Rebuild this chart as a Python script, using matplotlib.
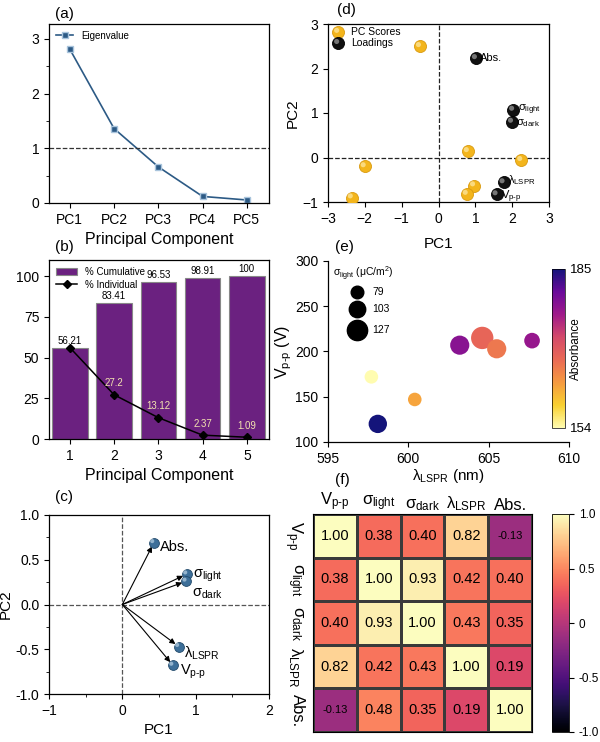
import numpy as np
import matplotlib
matplotlib.use("Agg")
import matplotlib.pyplot as plt
from matplotlib.colors import LinearSegmentedColormap, Normalize
from matplotlib.transforms import offset_copy
from matplotlib.ticker import AutoMinorLocator

plt.rcParams['font.family'] = ['Liberation Sans', 'DejaVu Sans']
plt.rcParams['mathtext.fontset'] = 'custom'
plt.rcParams['mathtext.rm'] = 'Liberation Sans'
plt.rcParams['mathtext.it'] = 'Liberation Sans'
plt.rcParams['font.size'] = 9.5
plt.rcParams['axes.linewidth'] = 0.9

# ---- data ----
pcs = ["PC1", "PC2", "PC3", "PC4", "PC5"]
eigen = [2.81, 1.36, 0.66, 0.12, 0.055]

comp = [1, 2, 3, 4, 5]
cumulative = [56.21, 83.41, 96.53, 98.91, 100]
individual = [56.21, 27.2, 13.12, 2.37, 1.09]
cum_labels = ["56.21", "83.41", "96.53", "98.91", "100"]
ind_labels = ["", "27.2", "13.12", "2.37", "1.09"]

var_names = [r"V$_{\rm p\text{-}p}$", r"$\sigma_{\rm light}$", r"$\sigma_{\rm dark}$",
             r"$\lambda_{\rm LSPR}$", "Abs."]
load_pc1 = [0.69, 0.88, 0.87, 0.77, 0.43]
load_pc2 = [-0.68, 0.34, 0.26, -0.47, 0.69]

score_pc1 = [-0.5, -2.0, -2.35, 0.8, 2.25, 0.97, 0.77]
score_pc2 = [2.5, -0.2, -0.9, 0.14, -0.06, -0.63, -0.82]
bi_pc1 = [1.58, 2.03, 2.0, 1.77, 1.02]
bi_pc2 = [-0.83, 1.07, 0.8, -0.56, 2.23]

lspr = [597.7, 598.1, 600.4, 603.2, 604.6, 605.5, 607.7]
vpp = [172, 120, 147, 207, 215, 203, 212]
sigma_light = [85, 115, 85, 120, 140, 120, 98]
absorb = [154, 185, 162, 178, 168, 166, 177]
size_legend = [79, 103, 127]

corr = np.array([
    [1.00, 0.38, 0.40, 0.82, -0.13],
    [0.38, 1.00, 0.93, 0.42, 0.40],
    [0.40, 0.93, 1.00, 0.43, 0.35],
    [0.82, 0.42, 0.43, 1.00, 0.19],
    [-0.13, 0.48, 0.35, 0.19, 1.00],
])

W, H = 600, 742
fig = plt.figure(figsize=(W / 100, H / 100), dpi=100)
TICK = 10
LAB = 11


def ax_px(l, t, r, b):
    return fig.add_axes([l / W, 1 - b / H, (r - l) / W, (b - t) / H])


def sphere(ax, x, y, s, color, edge, hl="white", zorder=3):
    ax.scatter(x, y, s=s, c=color, edgecolors=edge, linewidths=0.6, zorder=zorder)
    tr = offset_copy(ax.transData, fig=fig, x=-1.2, y=1.2, units='points')
    ax.scatter(x, y, s=s * 0.18, c=hl, alpha=0.6, edgecolors='none',
               transform=tr, zorder=zorder + 0.1)


blue = "#2c5a85"

# ---- (a) ----
ax = ax_px(49, 24, 269, 203)
x = np.arange(1, 6)
ax.plot(x, eigen, '-s', color=blue, ms=5, lw=1.2, mfc=blue, mec="#a9c4dc", label="Eigenvalue")
ax.axhline(1, color="#333333", ls='--', lw=0.9)
ax.set_xlim(0.53, 5.5)
ax.set_ylim(0, 3.27)
ax.set_xticks(x)
ax.set_xticklabels(pcs)
ax.set_yticks([0, 1, 2, 3])
ax.yaxis.set_minor_locator(AutoMinorLocator(2))
ax.tick_params(labelsize=TICK)
ax.set_xlabel("Principal Component", fontsize=LAB + 0.5, labelpad=4)
ax.legend(loc="upper left", fontsize=7, frameon=False, handlelength=1.8,
          borderaxespad=0.3)
fig.text(55 / W, 1 - 14 / H, "(a)", fontsize=11, va="center")

# ---- (b) ----
ax = ax_px(49, 260, 269, 439)
hb = ax.bar(comp, cumulative, width=0.8, color="#6b2180", edgecolor="#888888", lw=0.8,
            label="% Cumulative")
hl, = ax.plot(comp, individual, '-D', color="black", ms=4, lw=1.1, label="% Individual")
for xi, yi, t in zip(comp, cumulative, cum_labels):
    ax.text(xi, yi + 1.2, t, ha="center", va="bottom", fontsize=7)
for xi, yi, t in zip(comp, individual, ind_labels):
    if t:
        ax.text(xi, yi + 4, t, ha="center", va="bottom", fontsize=7, color="#f3e3b0")
ax.set_xlim(0.53, 5.5)
ax.set_ylim(0, 110)
ax.set_xticks(comp)
ax.set_yticks([0, 25, 50, 75, 100])
ax.tick_params(labelsize=TICK)
ax.set_xlabel("Principal Component", fontsize=LAB + 0.5, labelpad=4)
ax.legend([hb, hl], ["% Cumulative", "% Individual"], loc="upper left", fontsize=7,
          frameon=False, handlelength=2.2, borderaxespad=0.3, labelspacing=0.3)
fig.text(55 / W, 1 - 247 / H, "(b)", fontsize=11, va="center")

# ---- (c) ----
ax = ax_px(49, 515, 269, 694)
ax.axhline(0, color="#555555", ls='--', lw=0.9)
ax.axvline(0, color="#555555", ls='--', lw=0.9)
for px_, py_ in zip(load_pc1, load_pc2):
    ax.annotate("", xy=(px_, py_), xytext=(0, 0),
                arrowprops=dict(arrowstyle="-|>", color="black", lw=0.8,
                                mutation_scale=8, shrinkA=0, shrinkB=3))
sphere(ax, load_pc1, load_pc2, 50, "#3d6f99", "#234a6b", hl="#cfe3f2")
c_offsets = [(0.1, -0.07), (0.08, -0.02), (0.08, -0.14), (0.07, -0.07), (0.09, -0.05)]
for name, px_, py_, (dx, dy) in zip(var_names, load_pc1, load_pc2, c_offsets):
    ax.text(px_ + dx, py_ + dy, name, fontsize=10.5, va="center", ha="left")
ax.set_xlim(-1, 2)
ax.set_ylim(-1, 1)
ax.set_xticks([-1, 0, 1, 2])
ax.set_yticks([-1.0, -0.5, 0.0, 0.5, 1.0])
ax.set_yticklabels(["-1.0", "-0.5", "0.0", "0.5", "1.0"])
ax.xaxis.set_minor_locator(AutoMinorLocator(2))
ax.yaxis.set_minor_locator(AutoMinorLocator(2))
ax.tick_params(labelsize=TICK)
ax.set_xlabel("PC1", fontsize=LAB, labelpad=4)
ax.set_ylabel("PC2", fontsize=LAB, labelpad=2)
fig.text(55 / W, 1 - 497 / H, "(c)", fontsize=11, va="center")

# ---- (d) ----
ax = ax_px(328, 24, 549, 202)
ax.axhline(0, color="#222222", ls='--', lw=0.9)
ax.axvline(0, color="#222222", ls='--', lw=0.9)
sphere(ax, score_pc1, score_pc2, 75, "#f3b51c", "#d99a10", hl="#fff3c0")
sphere(ax, bi_pc1, bi_pc2, 75, "#111111", "#000000", hl="#bbbbbb")
d_offsets = [(0.12, -0.05), (0.12, 0.0), (0.1, -0.02), (0.12, 0.05), (0.1, 0.0)]
for name, px_, py_, (dx, dy) in zip(var_names, bi_pc1, bi_pc2, d_offsets):
    ax.text(px_ + dx, py_ + dy, name, fontsize=8, va="center", ha="left")
ax.set_xlim(-3, 3)
ax.set_ylim(-1, 3)
ax.set_xticks([-3, -2, -1, 0, 1, 2, 3])
ax.set_yticks([-1, 0, 1, 2, 3])
ax.tick_params(labelsize=TICK)
ax.set_xlabel("PC1", fontsize=LAB, labelpad=8)
ax.set_ylabel("PC2", fontsize=LAB, labelpad=2)
sphere(ax, [-2.72], [2.82], 75, "#f3b51c", "#d99a10", hl="#fff3c0")
sphere(ax, [-2.72], [2.57], 75, "#111111", "#000000", hl="#bbbbbb")
ax.text(-2.37, 2.82, "PC Scores", fontsize=7.5, va="center")
ax.text(-2.37, 2.57, "Loadings", fontsize=7.5, va="center")
fig.text(337 / W, 1 - 10 / H, "(d)", fontsize=11, va="center")

# ---- (e) ----
abs_cmap = LinearSegmentedColormap.from_list(
    "absc", ["#fffcb0", "#f8d030", "#f59a40", "#ea6a55", "#d44a6a", "#a01a8a",
             "#6a0a9a", "#14147a"])
norm = Normalize(154, 185)
ax = ax_px(328, 261, 569, 442)
ax.spines["top"].set_visible(False)
ax.spines["right"].set_visible(False)


def sz(v):
    return (0.115 * v) ** 2


ax.scatter(lspr, vpp, s=[sz(v) for v in sigma_light], c=absorb, cmap=abs_cmap, norm=norm,
           edgecolors='none', zorder=3)
ax.set_xlim(595, 610)
ax.set_ylim(100, 300)
ax.set_xticks([595, 600, 605, 610])
ax.set_yticks([100, 150, 200, 250, 300])
ax.tick_params(labelsize=TICK)
ax.set_xlabel(r"$\lambda_{\rm LSPR}$ (nm)", fontsize=LAB, labelpad=1)
ax.set_ylabel(r"V$_{\rm p\text{-}p}$ (V)", fontsize=LAB + 0.5, labelpad=1)
for v, yy in zip(size_legend, [0.83, 0.735, 0.62]):
    ax.scatter([0.12], [yy], s=sz(v), c="black", transform=ax.transAxes, clip_on=False)
    ax.text(0.185, yy, str(v), transform=ax.transAxes, fontsize=7.5, va="center")
ax.text(0.02, 0.93, r"$\sigma_{\rm light}$ ($\mu$C/m$^2$)", transform=ax.transAxes,
        fontsize=7.5, va="center")
cax = ax_px(552, 269, 565, 428)
sm = plt.cm.ScalarMappable(norm=norm, cmap=abs_cmap)
cb = fig.colorbar(sm, cax=cax)
cb.set_ticks([154, 185])
cb.ax.tick_params(labelsize=9.5, length=0)
cb.outline.set_linewidth(0.5)
cax.text(1.85, 0.5, "Absorbance", rotation=90, transform=cax.transAxes,
         ha="center", va="center", fontsize=8.5)
fig.text(335 / W, 1 - 247 / H, "(e)", fontsize=11, va="center")

# ---- (f) ----
ax = ax_px(313, 514, 532, 732)
mesh = ax.pcolormesh(np.arange(6), np.arange(6), corr, cmap="magma", vmin=-1, vmax=1,
                     edgecolors="#3a3a3a", linewidth=0.8)
ax.set_xlim(0, 5)
ax.set_ylim(5, 0)
for i in range(5):
    for j in range(5):
        v = corr[i, j]
        ax.text(j + 0.5, i + 0.5, f"{v:.2f}", ha="center", va="center",
                fontsize=8 if v < 0 else 10.5)
ax.xaxis.tick_top()
ax.set_xticks(np.arange(5) + 0.5)
ax.set_xticklabels(var_names, fontsize=12)
ax.set_yticks(np.arange(5) + 0.5)
ax.set_yticklabels(var_names, fontsize=12, rotation=-90, va="center")
ax.tick_params(axis="x", length=0, pad=1)
ax.tick_params(axis="y", length=0, pad=6)
for s in ax.spines.values():
    s.set_linewidth(0.8)
cax = ax_px(552, 514, 569, 732)
cb = fig.colorbar(mesh, cax=cax)
cb.set_ticks([-1, -0.5, 0, 0.5, 1])
cb.set_ticklabels(["-1.0", "-0.5", "0", "0.5", "1.0"])
cb.ax.tick_params(labelsize=8.5)
cb.outline.set_linewidth(0.6)
fig.text(335 / W, 1 - 480 / H, "(f)", fontsize=11, va="center")

fig.savefig("out.png", dpi=100)
